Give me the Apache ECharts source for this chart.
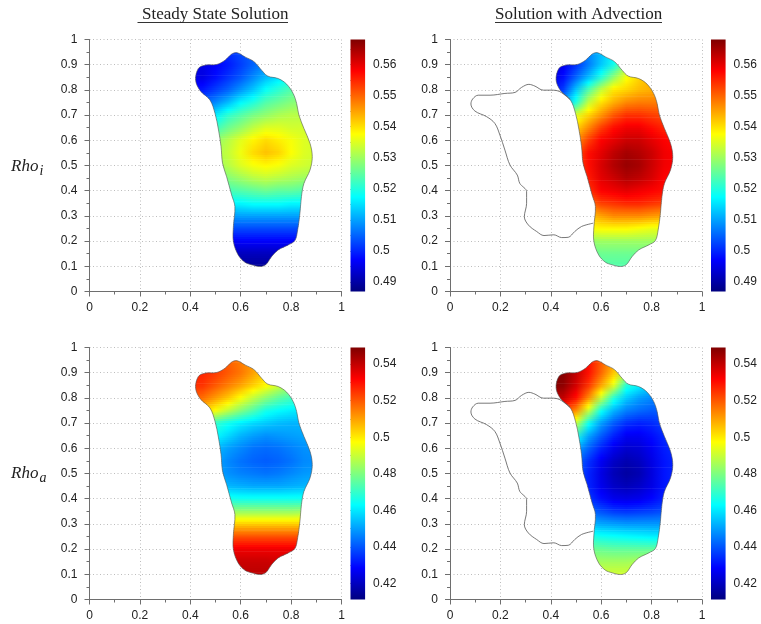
<!DOCTYPE html>
<html>
<head>
<meta charset="utf-8">
<style>
html, body { margin: 0; padding: 0; background: #fff; }
#chart { width: 761px; height: 624px; }
</style>
<script src="https://cdn.jsdelivr.net/npm/echarts@6/dist/echarts.min.js"></script>
</head>
<body>
<div id="chart"></div>
<script>
// sample columns and rows of the value tables
var colX = [0.40, 0.45, 0.50, 0.55, 0.60, 0.65, 0.70, 0.75, 0.80, 0.85, 0.90];
var rowY = [0.95, 0.90, 0.85, 0.80, 0.75, 0.70, 0.65, 0.60, 0.55, 0.50, 0.45, 0.40, 0.35, 0.30, 0.25, 0.20, 0.15, 0.10];

// Rho_i, steady state
var rhoISteady = [
    [.497,.497,.499,.501,.503,.505,.507,.509,.511,.512,.513],
    [.495,.495,.497,.499,.502,.505,.508,.510,.512,.514,.515],
    [.495,.495,.498,.501,.504,.508,.512,.515,.518,.520,.521],
    [.498,.499,.502,.505,.509,.513,.518,.521,.524,.525,.526],
    [.504,.505,.508,.512,.517,.520,.524,.526,.528,.529,.530],
    [.511,.513,.516,.521,.524,.527,.529,.531,.532,.532,.532],
    [.518,.520,.522,.526,.529,.5325,.535,.535,.534,.534,.533],
    [.524,.526,.529,.532,.5355,.5385,.5405,.539,.537,.535,.534],
    [.526,.528,.531,.533,.5365,.5405,.5425,.541,.5375,.535,.534],
    [.525,.527,.530,.532,.535,.537,.538,.537,.535,.534,.533],
    [.523,.524,.526,.528,.530,.532,.533,.532,.531,.530,.530],
    [.519,.520,.521,.523,.524,.525,.526,.525,.525,.524,.524],
    [.515,.515,.516,.517,.517,.518,.518,.518,.517,.517,.517],
    [.509,.509,.509,.509,.510,.510,.510,.510,.510,.510,.510],
    [.502,.502,.502,.503,.503,.503,.503,.503,.503,.503,.503],
    [.496,.496,.496,.496,.497,.497,.497,.497,.497,.497,.497],
    [.492,.492,.492,.492,.492,.492,.492,.492,.493,.493,.493],
    [.489,.489,.489,.489,.489,.489,.489,.489,.490,.490,.490]
];
// Rho_i, with advection
var rhoIAdvect = [
    [.497,.499,.503,.508,.512,.516,.521,.525,.528,.530,.531],
    [.494,.496,.501,.507,.513,.519,.530,.533,.536,.538,.539],
    [.494,.498,.505,.512,.520,.529,.537,.541,.544,.545,.546],
    [.497,.502,.513,.524,.533,.5395,.541,.543,.544,.545,.546],
    [.505,.510,.520,.533,.540,.544,.547,.548,.548,.548,.548],
    [.522,.528,.535,.541,.546,.551,.554,.554,.553,.552,.552],
    [.530,.535,.541,.547,.553,.557,.559,.559,.557,.555,.554],
    [.535,.540,.546,.553,.558,.560,.562,.562,.560,.558,.557],
    [.538,.544,.551,.557,.560,.563,.565,.564,.562,.559,.558],
    [.539,.545,.552,.557,.561,.564,.566,.565,.562,.559,.558],
    [.538,.544,.551,.556,.560,.562,.564,.563,.561,.558,.557],
    [.536,.542,.548,.554,.558,.559,.560,.559,.558,.557,.555],
    [.534,.539,.544,.549,.553,.554,.555,.555,.554,.553,.552],
    [.530,.533,.538,.542,.545,.547,.547,.547,.546,.545,.545],
    [.527,.529,.533,.537,.538,.538,.538,.537,.536,.536,.536],
    [.523,.525,.527,.529,.530,.530,.530,.530,.530,.530,.530],
    [.520,.521,.523,.525,.526,.526,.526,.526,.526,.526,.526],
    [.519,.520,.521,.523,.524,.524,.524,.524,.525,.525,.525]
];
// Rho_a, steady state
var rhoASteady = [
    [.527,.525,.522,.519,.515,.511,.507,.503,.500,.497,.495],
    [.528,.527,.524,.520,.516,.510,.504,.499,.494,.490,.488],
    [.526,.525,.520,.515,.510,.504,.498,.491,.485,.481,.478],
    [.520,.517,.511,.505,.497,.489,.482,.476,.472,.470,.469],
    [.510,.505,.497,.489,.481,.474,.466,.463,.461,.460,.460],
    [.495,.488,.470,.465,.461,.458,.456,.454,.453,.453,.453],
    [.477,.471,.463,.458,.453,.450,.448,.449,.450,.451,.451],
    [.466,.461,.454,.450,.447,.444,.443,.444,.446,.448,.449],
    [.460,.456,.451,.447,.444,.442,.441,.442,.444,.447,.448],
    [.460,.456,.451,.448,.446,.445,.444,.445,.447,.449,.450],
    [.463,.460,.456,.453,.452,.451,.451,.451,.452,.453,.454],
    [.471,.470,.468,.466,.465,.465,.465,.465,.465,.465,.465],
    [.486,.485,.484,.483,.483,.483,.483,.483,.483,.484,.484],
    [.504,.504,.504,.504,.504,.504,.504,.504,.504,.504,.504],
    [.521,.521,.521,.521,.521,.521,.521,.521,.521,.521,.521],
    [.533,.533,.533,.533,.534,.534,.534,.534,.534,.534,.534],
    [.537,.537,.538,.538,.539,.539,.539,.538,.538,.538,.538],
    [.540,.540,.541,.541,.541,.541,.541,.541,.541,.541,.541]
];
// Rho_a, with advection
var rhoAAdvect = [
    [.548,.545,.538,.530,.520,.510,.500,.490,.482,.476,.472],
    [.549,.548,.540,.530,.518,.505,.490,.478,.470,.466,.463],
    [.549,.547,.538,.525,.510,.494,.468,.462,.456,.452,.450],
    [.542,.540,.530,.513,.490,.468,.456,.450,.447,.446,.445],
    [.525,.523,.513,.490,.465,.453,.446,.443,.441,.441,.441],
    [.510,.505,.490,.465,.450,.441,.435,.433,.434,.437,.438],
    [.485,.477,.468,.451,.441,.433,.427,.427,.430,.434,.436],
    [.470,.460,.452,.442,.433,.426,.422,.423,.427,.432,.435],
    [.462,.452,.444,.435,.427,.421,.418,.420,.425,.431,.434],
    [.460,.450,.441,.433,.425,.419,.416,.418,.424,.431,.434],
    [.460,.450,.441,.433,.426,.421,.419,.421,.425,.431,.434],
    [.461,.452,.443,.436,.430,.426,.425,.426,.429,.433,.435],
    [.465,.458,.449,.443,.439,.436,.435,.436,.437,.439,.440],
    [.472,.466,.458,.454,.451,.450,.449,.449,.449,.449,.450],
    [.478,.475,.471,.468,.465,.464,.463,.462,.461,.461,.461],
    [.484,.483,.481,.478,.477,.476,.476,.476,.476,.476,.476],
    [.490,.489,.487,.486,.485,.485,.485,.486,.487,.487,.488],
    [.492,.492,.491,.491,.491,.491,.491,.492,.493,.493,.493]
];

// outline of the main lobe, closed
var blobX = [.584,.617,.653,.683,.707,.749,.782,.808,.822,.831,.851,.875,.884,.875,.851,.841,.835,.826,.815,.789,.749,.723,.699,.676,.643,.617,.590,.571,.571,.577,.564,.544,.528,.522,.512,.498,.478,.439,.421,.432,.458,.505,.538,.564];
var blobY = [.948,.931,.912,.878,.855,.845,.823,.786,.746,.700,.647,.588,.535,.482,.429,.376,.310,.244,.202,.185,.165,.139,.106,.099,.106,.116,.145,.198,.258,.337,.383,.456,.509,.575,.641,.707,.760,.797,.839,.885,.898,.901,.918,.942];
// outline of the left lobe, drawn only in the advection panels
var lobeX = [.476,.436,.403,.370,.337,.313,.284,.258,.218,.159,.112,.090,.083,.099,.145,.178,.198,.218,.238,.267,.277,.304,.304,.295,.311,.344,.373,.412,.443,.469,.495,.522,.568];
var lobeY = [.762,.793,.799,.799,.815,.822,.810,.790,.786,.779,.779,.764,.744,.716,.694,.667,.621,.561,.502,.462,.429,.396,.350,.297,.264,.238,.222,.225,.214,.215,.238,.258,.271];

// colour scale ranges and colourbar ticks
var rhoIRange = [0.487, 0.568];
var rhoARange = [0.4113, 0.5491];
var rhoITicks = [0.49, 0.50, 0.51, 0.52, 0.53, 0.54, 0.55, 0.56];
var rhoIMinor = [0.495, 0.505, 0.515, 0.525, 0.535, 0.545, 0.555, 0.565];
var rhoATicks = [0.42, 0.44, 0.46, 0.48, 0.50, 0.52, 0.54];
var rhoAMinor = [0.43, 0.45, 0.47, 0.49, 0.51, 0.53];

var jet = ['#00007f','#0000ff','#007fff','#00ffff','#7fff7f','#ffff00','#ff7f00','#ff0000','#7f0000'];
var tickFont = 'Liberation Sans';
var serifFont = 'Liberation Serif';
var axisGray = '#6e6e6e';
var dotted = { color: '#bdbdbd', type: [1, 2.5], width: 1 };
var STRIPS = 6;

var panels = [
    { left: 89.5, top: 39.5, rows: rhoISteady, range: rhoIRange, ticks: rhoITicks, minor: rhoIMinor, lobe: false },
    { left: 450, top: 39.5, rows: rhoIAdvect, range: rhoIRange, ticks: rhoITicks, minor: rhoIMinor, lobe: true },
    { left: 89.5, top: 347.5, rows: rhoASteady, range: rhoARange, ticks: rhoATicks, minor: rhoAMinor, lobe: false },
    { left: 450, top: 347.5, rows: rhoAAdvect, range: rhoARange, ticks: rhoATicks, minor: rhoAMinor, lobe: true }
];

function valueColor(v, range) {
    var t = (v - range[0]) / (range[1] - range[0]);
    return echarts.color.lerp(Math.max(0, Math.min(1, t)), jet);
}

// smooth shading between table rows: every row pair is painted as thin strips
// with a horizontal gradient, cut to the lobe outline
function shadeRenderer(panel) {
    return function (params, api) {
        var i = params.dataIndex;
        if (i >= rowY.length - 1) return;
        var upper = panel.rows[i], lower = panel.rows[i + 1];
        var children = [];
        for (var s = 0; s < STRIPS; s++) {
            var f = s / STRIPS;
            var a = api.coord([colX[0], rowY[i] + (rowY[i + 1] - rowY[i]) * f]);
            var b = api.coord([colX[colX.length - 1], rowY[i] + (rowY[i + 1] - rowY[i]) * (f + 1 / STRIPS)]);
            var stops = colX.map(function (x, c) {
                return {
                    offset: c / (colX.length - 1),
                    color: valueColor(upper[c] + (lower[c] - upper[c]) * (f + 0.5 / STRIPS), panel.range)
                };
            });
            children.push({
                type: 'rect',
                shape: { x: a[0], y: a[1], width: b[0] - a[0], height: b[1] - a[1] + 0.6 },
                style: { fill: { type: 'linear', x: 0, y: 0, x2: 1, y2: 0, colorStops: stops } }
            });
        }
        var pts = blobX.map(function (x, k) { return api.coord([x, blobY[k]]); });
        return {
            type: 'group',
            clipPath: { type: 'polygon', shape: { points: pts, smooth: 0.35 } },
            children: children
        };
    };
}

function rhoTitle(label, top) {
    return {
        text: '{r|Rho}{s|' + label + '}', left: 6, top: top,
        textStyle: { fontWeight: 'normal', rich: {
            r: { fontFamily: serifFont, fontStyle: 'italic', fontWeight: 'normal', fontSize: 17, color: '#222' },
            s: { fontFamily: serifFont, fontStyle: 'italic', fontWeight: 'normal', fontSize: 14, color: '#222', verticalAlign: 'bottom', padding: [9, 0, 0, 1] }
        } }
    };
}

var option = {
    animation: false,
    backgroundColor: '#fff',
    title: [
        { text: 'Steady State Solution', left: 137, top: 1, textStyle: { fontFamily: serifFont, fontWeight: 'normal', fontSize: 17, color: '#222' } },
        { text: 'Solution with Advection', left: 490, top: 1, textStyle: { fontFamily: serifFont, fontWeight: 'normal', fontSize: 17, color: '#222' } },
        rhoTitle('i', 150),
        rhoTitle('a', 457)
    ],
    graphic: [
        { type: 'line', shape: { x1: 137.5, y1: 22.5, x2: 288, y2: 22.5 }, style: { stroke: '#333', lineWidth: 1 } },
        { type: 'line', shape: { x1: 495, y1: 22.5, x2: 662, y2: 22.5 }, style: { stroke: '#333', lineWidth: 1 } }
    ],
    grid: [],
    xAxis: [],
    yAxis: [],
    series: []
};

panels.forEach(function (p) {
    var idx = option.grid.length;
    option.grid.push({ left: p.left, top: p.top, width: 252, height: 252 });
    option.xAxis.push({
        gridIndex: idx, type: 'value', min: 0, max: 1, interval: 0.2,
        axisLine: { onZero: false, lineStyle: { color: axisGray } },
        axisTick: { length: 5, inside: false, lineStyle: { color: axisGray } },
        minorTick: { show: true, splitNumber: 2, length: 3, lineStyle: { color: axisGray } },
        splitLine: { show: true, lineStyle: dotted },
        axisLabel: { color: '#222', fontFamily: tickFont, fontSize: 12, margin: 10, hideOverlap: false }
    });
    option.yAxis.push({
        gridIndex: idx, type: 'value', min: 0, max: 1, interval: 0.1,
        axisLine: { onZero: false, lineStyle: { color: axisGray } },
        axisTick: { length: 5, lineStyle: { color: axisGray } },
        minorTick: { show: true, splitNumber: 2, length: 3, lineStyle: { color: axisGray } },
        splitLine: { show: true, lineStyle: dotted },
        axisLabel: { color: '#222', fontFamily: tickFont, fontSize: 12, margin: 12, hideOverlap: false }
    });
    option.series.push({
        type: 'custom', xAxisIndex: idx, yAxisIndex: idx, coordinateSystem: 'cartesian2d', silent: true, clip: false,
        data: rowY.map(function (y) { return [colX[0], y]; }),
        renderItem: shadeRenderer(p)
    });
    option.series.push({
        type: 'custom', xAxisIndex: idx, yAxisIndex: idx, coordinateSystem: 'cartesian2d', silent: true,
        data: [[blobX[0], blobY[0]]],
        renderItem: function (params, api) {
            return {
                type: 'polygon',
                shape: { points: blobX.map(function (x, k) { return api.coord([x, blobY[k]]); }), smooth: 0.35 },
                style: { fill: 'none', stroke: '#555', lineWidth: 0.6 }
            };
        }
    });
    if (p.lobe) {
        option.series.push({
            type: 'line', xAxisIndex: idx, yAxisIndex: idx, silent: true, symbol: 'none', smooth: 0.35,
            data: lobeX.map(function (x, k) { return [x, lobeY[k]]; }),
            lineStyle: { color: '#555', width: 0.8 }
        });
    }
});

// colourbars
panels.forEach(function (p) {
    var idx = option.grid.length;
    option.grid.push({ left: p.left + 261, top: p.top, width: 14.6, height: 252 });
    option.xAxis.push({ gridIndex: idx, type: 'value', min: 0, max: 1, show: false });
    option.yAxis.push({
        gridIndex: idx, type: 'value', position: 'right', min: p.range[0], max: p.range[1],
        axisLine: { show: true, lineStyle: { color: 'rgba(0,0,0,0)' } },
        splitLine: { show: false },
        axisTick: { show: true, length: 6, customValues: p.ticks.concat(p.minor), lineStyle: { color: axisGray } },
        axisLabel: {
            color: '#222', fontFamily: tickFont, fontSize: 12, margin: 8, hideOverlap: false,
            customValues: p.ticks,
            formatter: function (v) { return String(parseFloat(v.toFixed(2))); }
        }
    });
    option.series.push({
        type: 'custom', xAxisIndex: idx, yAxisIndex: idx, coordinateSystem: 'cartesian2d', silent: true,
        data: [[0, p.range[0]]],
        renderItem: function (params, api) {
            var a = api.coord([0, p.range[1]]), b = api.coord([1, p.range[0]]);
            return {
                type: 'rect',
                shape: { x: a[0], y: a[1], width: b[0] - a[0], height: b[1] - a[1] },
                style: { fill: { type: 'linear', x: 0, y: 1, x2: 0, y2: 0, colorStops: jet.map(function (c, i) { return { offset: i / (jet.length - 1), color: c }; }) } }
            };
        }
    });
});

var chart = echarts.init(document.getElementById('chart'), null, { renderer: 'canvas' });
chart.setOption(option);
</script>
</body>
</html>
